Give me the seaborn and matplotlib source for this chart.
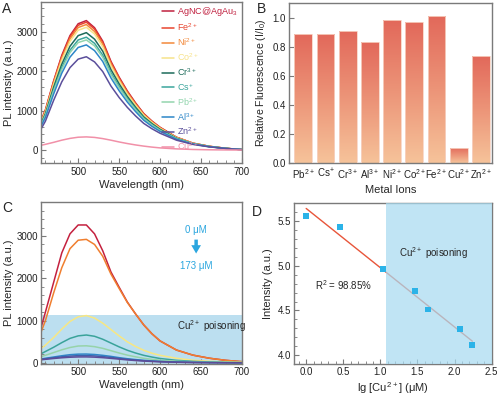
import numpy as np
import pandas as pd
import seaborn as sns
import matplotlib.pyplot as plt
from matplotlib.colors import LinearSegmentedColormap

# ---- panel A: emission spectra with different metal ions ----
wl = [455, 460, 470, 480, 490, 500, 510, 520, 530, 540, 550,
      560, 570, 580, 590, 600, 620, 640, 660, 680, 700]
spec_a = {
    "AgNC@AgAu$_3$": [760, 1020, 1750, 2400, 2900, 3200, 3280, 3100, 2760, 2250, 1850,
                      1500, 1200, 930, 740, 580, 330, 180, 100, 50, 15],
    "Fe$^{2+}$": [750, 1010, 1730, 2370, 2865, 3160, 3240, 3065, 2725, 2225, 1830,
                  1480, 1185, 920, 730, 575, 328, 180, 100, 50, 16],
    "Ni$^{2+}$": [735, 990, 1700, 2330, 2815, 3105, 3180, 3005, 2680, 2185, 1795,
                  1455, 1165, 905, 720, 565, 322, 177, 99, 50, 16],
    "Co$^{2+}$": [720, 965, 1660, 2275, 2750, 3035, 3110, 2940, 2615, 2135, 1755,
                  1420, 1140, 885, 705, 552, 316, 174, 98, 49, 16],
    "Cr$^{3+}$": [690, 925, 1590, 2175, 2630, 2900, 2975, 2810, 2505, 2040, 1680,
                  1360, 1090, 845, 675, 530, 305, 168, 95, 48, 16],
    "Cs$^{+}$": [665, 890, 1525, 2095, 2530, 2790, 2860, 2705, 2405, 1960, 1615,
                 1310, 1050, 815, 650, 510, 295, 164, 93, 47, 16],
    "Pb$^{2+}$": [650, 870, 1490, 2040, 2470, 2725, 2790, 2640, 2350, 1915, 1575,
                  1280, 1025, 795, 635, 498, 290, 161, 92, 47, 16],
    "Al$^{3+}$": [620, 830, 1420, 1950, 2355, 2600, 2665, 2520, 2245, 1830, 1505,
                  1220, 980, 760, 605, 478, 280, 157, 90, 46, 16],
    "Zn$^{2+}$": [550, 735, 1260, 1730, 2090, 2305, 2365, 2235, 1990, 1625, 1335,
                  1085, 870, 680, 545, 430, 255, 148, 86, 45, 16],
    "Cu$^{2+}$": [127, 150, 200, 255, 300, 330, 338, 325, 295, 255, 210,
                  170, 135, 105, 80, 60, 35, 20, 12, 8, 5],
}
colors_a = ["#C0203F", "#E8452F", "#F3893B", "#F7E38A", "#1D6B5A",
            "#3AA59C", "#93D5AE", "#2C86C8", "#5B4F9B", "#F190A8"]

# ---- panel B: relative fluorescence ----
ions = ["Pb$^{2+}$", "Cs$^{+}$", "Cr$^{3+}$", "Al$^{3+}$", "Ni$^{2+}$",
        "Co$^{2+}$", "Fe$^{2+}$", "Cu$^{2+}$", "Zn$^{2+}$"]
rel_fl = [0.89, 0.89, 0.91, 0.83, 0.985, 0.97, 1.01, 0.105, 0.735]

# ---- panel C: Cu2+ titration spectra (0 -> 173 uM) ----
spec_c = [
    [860, 1200, 1900, 2600, 3050, 3260, 3260, 3050, 2650, 2150, 1790,
     1440, 1160, 900, 690, 520, 305, 185, 112, 62, 30],
    [745, 1000, 1650, 2250, 2700, 2900, 2920, 2800, 2520, 2100, 1760,
     1430, 1160, 900, 690, 520, 305, 185, 112, 62, 30],
    [345, 420, 600, 800, 980, 1090, 1120, 1060, 940, 790, 640,
     500, 390, 300, 230, 180, 110, 65, 40, 25, 15],
    [220, 270, 370, 480, 580, 640, 660, 630, 560, 470, 380,
     300, 235, 180, 140, 105, 62, 38, 24, 15, 10],
    [150, 180, 245, 310, 365, 400, 405, 385, 345, 290, 235,
     185, 145, 110, 85, 65, 40, 25, 16, 10, 7],
    [95, 110, 140, 170, 195, 208, 210, 200, 180, 155, 125,
     100, 80, 62, 48, 37, 22, 14, 9, 6, 4],
    [85, 98, 122, 145, 162, 172, 174, 166, 150, 130, 106,
     85, 68, 53, 41, 32, 19, 12, 8, 5, 3],
    [75, 85, 105, 122, 135, 142, 143, 137, 125, 108, 90,
     72, 57, 45, 35, 27, 16, 10, 6, 4, 3],
]
colors_c = ["#C4213F", "#F07F2F", "#F8E782", "#3AA39A",
            "#96D3A9", "#2F86C8", "#3F5FAB", "#5E4B98"]

# ---- panel D: linear fit ----
lg_cu = [0.0, 0.45, 1.04, 1.47, 1.64, 2.07, 2.24]
intensity = [5.56, 5.43, 4.96, 4.72, 4.51, 4.29, 4.11]

sns.set_style("ticks")
plt.rcParams["font.family"] = ["Liberation Sans", "DejaVu Sans"]
plt.rcParams["mathtext.default"] = "regular"
plt.rcParams["xtick.direction"] = "in"
plt.rcParams["ytick.direction"] = "in"
plt.rcParams["axes.edgecolor"] = "#7a7a7a"
plt.rcParams["xtick.color"] = "#7a7a7a"
plt.rcParams["ytick.color"] = "#7a7a7a"
plt.rcParams["xtick.labelcolor"] = "#222222"
plt.rcParams["ytick.labelcolor"] = "#222222"
plt.rcParams["xtick.major.pad"] = 2.5
plt.rcParams["ytick.major.pad"] = 2.5

fig = plt.figure(figsize=(5, 3.99), dpi=100)
axA = fig.add_axes([0.0826, 0.5907, 0.4014, 0.4043])
axB = fig.add_axes([0.5786, 0.5907, 0.4048, 0.4018])
axC = fig.add_axes([0.0826, 0.0877, 0.4014, 0.4068])
axD = fig.add_axes([0.5886, 0.0877, 0.3948, 0.4028])

tick_fs = 7
lab_fs = 8

# A
for (name, vals), c in zip(spec_a.items(), colors_a):
    sns.lineplot(x=wl, y=vals, color=c, lw=1.1, label=name, ax=axA)
axA.set_xlim(455, 700)
axA.set_ylim(-330, 3750)
axA.set_xticks([500, 550, 600, 650, 700])
axA.set_yticks([0, 1000, 2000, 3000])
axA.minorticks_on()
axA.set_xlabel("Wavelength (nm)", fontsize=lab_fs, labelpad=2)
axA.set_ylabel("PL intensity (a.u.)", fontsize=lab_fs, labelpad=2)
axA.tick_params(labelsize=tick_fs)
axA.legend(loc="upper right", frameon=False, fontsize=6.5, handlelength=1.4,
           handletextpad=0.3, labelspacing=0.36, borderaxespad=0.1,
           labelcolor="linecolor", bbox_to_anchor=(1.0, 1.01))

# B
df_b = pd.DataFrame({"ion": ions, "val": rel_fl})
sns.barplot(data=df_b, x="ion", y="val", width=0.8, color="#EC9478",
            edgecolor="#F7D3C4", linewidth=0.6, ax=axB)
cmap = LinearSegmentedColormap.from_list("bar", ["#F6C39A", "#EC9478", "#E2685A"])
grad = np.linspace(0, 1, 256).reshape(-1, 1)
for p in axB.patches:
    x0, y0, w, h = p.get_x(), p.get_y(), p.get_width(), p.get_height()
    im = axB.imshow(grad, extent=[x0, x0 + w, y0, y0 + h], origin="lower",
                    cmap=cmap, aspect="auto", zorder=2)
    im.set_clip_path(p)
    p.set_facecolor("none")
    p.set_zorder(3)
axB.set_xlim(-0.63, 8.48)
axB.set_ylim(0, 1.1)
axB.set_yticks([0, 0.2, 0.4, 0.6, 0.8, 1.0])
axB.tick_params(axis="x", length=0, labelsize=tick_fs)
axB.tick_params(axis="y", labelsize=tick_fs)
axB.set_xlabel("Metal Ions", fontsize=lab_fs, labelpad=3)
axB.set_ylabel("Relative Fluorescence (I/I$_0$)", fontsize=7.6, labelpad=3)

# C
axC.axhspan(-25, 1130, color="#BCDFF0", zorder=0.5, lw=0)
for vals, c in zip(spec_c, colors_c):
    sns.lineplot(x=wl, y=vals, color=c, lw=1.1, ax=axC)
axC.set_xlim(455, 700)
axC.set_ylim(-25, 3810)
axC.set_xticks([500, 550, 600, 650, 700])
axC.set_yticks([0, 1000, 2000, 3000])
axC.minorticks_on()
axC.set_xlabel("Wavelength (nm)", fontsize=lab_fs, labelpad=2)
axC.set_ylabel("PL intensity (a.u.)", fontsize=lab_fs, labelpad=2)
axC.tick_params(labelsize=tick_fs)
blue_txt = "#2BA6DF"
axC.text(644, 3140, "0 μM", color=blue_txt, fontsize=7, ha="center", va="center")
axC.text(644, 2300, "173 μM", color=blue_txt, fontsize=7, ha="center", va="center")
axC.annotate("", xy=(644, 2520), xytext=(644, 2980),
             arrowprops=dict(arrowstyle="simple,head_width=0.7,head_length=0.6,tail_width=0.25",
                             color=blue_txt, lw=0))
axC.text(663, 874, "Cu$^{2+}$ poisoning", fontsize=7, ha="center", va="center")

# D
sns.regplot(x=lg_cu, y=intensity, ci=None, scatter=False, truncate=True,
            line_kws=dict(color="#E8553A", lw=1.0, zorder=2), ax=axD)
axD.axvspan(1.07, 2.5, color="#A8DAF0", alpha=0.72, zorder=3, lw=0)
sns.scatterplot(x=lg_cu, y=intensity, marker="s", s=18, color="#2BB3E8",
                edgecolor="none", zorder=5, ax=axD)
axD.set_xlim(-0.16, 2.5)
axD.set_ylim(3.90, 5.70)
axD.set_xticks([0, 0.5, 1.0, 1.5, 2.0, 2.5])
axD.set_yticks([4.0, 4.5, 5.0, 5.5])
axD.minorticks_on()
axD.tick_params(labelsize=tick_fs)
axD.set_xlabel("lg [Cu$^{2+}$] (μM)", fontsize=lab_fs, labelpad=2)
axD.set_ylabel("Intensity (a.u.)", fontsize=lab_fs, labelpad=3)
axD.text(0.51, 4.78, "R$^2$ = 98.85%", fontsize=7, ha="center", va="center")
axD.text(1.72, 5.14, "Cu$^{2+}$ poisoning", fontsize=7, ha="center", va="center", zorder=6)

for ax in (axA, axB, axC, axD):
    for s in ax.spines.values():
        s.set_visible(True)
        s.set_linewidth(1.0)

fig.text(0.004, 0.995, "A", fontsize=10, va="top")
fig.text(0.514, 0.995, "B", fontsize=10, va="top")
fig.text(0.004, 0.495, "C", fontsize=10, va="top")
fig.text(0.504, 0.485, "D", fontsize=10, va="top")

fig.savefig("out.png", dpi=100)
